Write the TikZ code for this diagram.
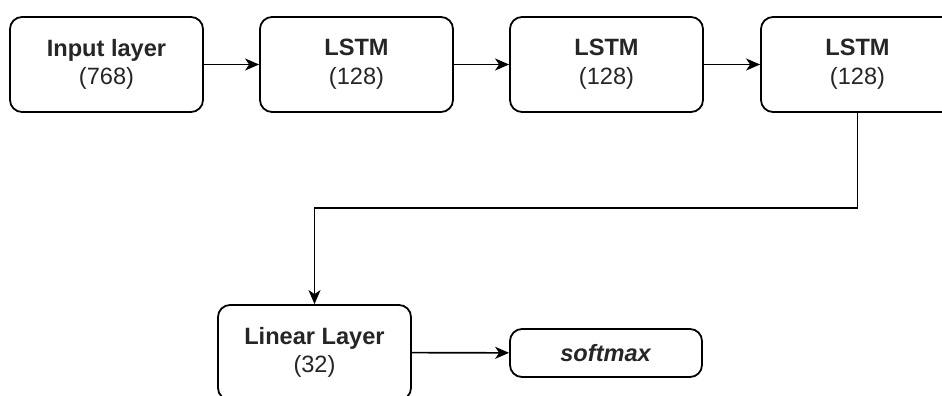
\documentclass[tikz,border=0pt]{standalone}
\usepackage{fontspec}
\setmainfont{Liberation Sans}
\usetikzlibrary{arrows.meta}
\begin{document}
\begin{tikzpicture}[x=0.5pt,y=-0.5pt,
  box/.style={draw=black, line width=0.9pt, rounded corners=6pt, fill=white,
    minimum width=96.5pt, minimum height=47.5pt, align=center, inner sep=0pt,
    font=\fontsize{11.8}{14.3}\selectfont, text=black!85},
  smallbox/.style={box, minimum width=96pt, minimum height=24pt},
  conn/.style={line width=0.8pt, -{Stealth[length=7pt,width=6pt,inset=2pt]}}
]
\useasboundingbox (0,0) rectangle (942,396);
\node[box] (in) at (106.5,64.5) {\textbf{Input layer}\\(768)};
\node[box] (l1) at (356.5,64.5) {\textbf{LSTM}\\(128)};
\node[box] (l2) at (606.5,64.5) {\textbf{LSTM}\\(128)};
\node[box] (l3) at (857.5,64.5) {\textbf{LSTM}\\(128)};
\node[box] (lin) at (314.5,352.5) {\textbf{Linear Layer}\\(32)};
\node[smallbox] (sm) at (606,353) {\textbf{\textit{softmax}}};
\coordinate (bend) at (857.5,208);
\draw[conn] (in) -- (l1);
\draw[conn] (l1) -- (l2);
\draw[conn] (l2) -- (l3);
\draw[conn] (l3.south) -- (bend) -| (lin.north);
\draw[conn] (lin) -- (sm);
\end{tikzpicture}
\end{document}
